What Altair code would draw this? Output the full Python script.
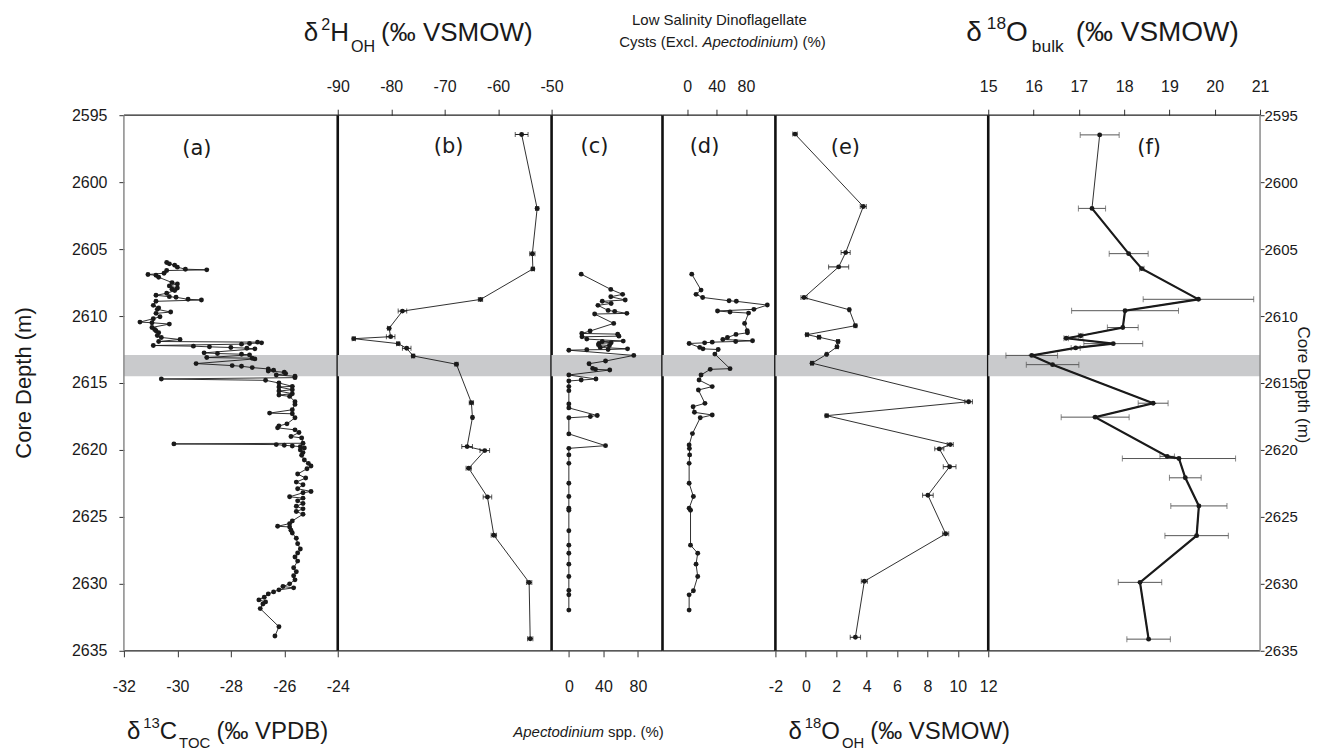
import altair as alt
import pandas as pd

# ---------------- data ----------------
# (a) d13C TOC (permil VPDB)
a_depth = [2606.0, 2606.1, 2606.2, 2606.35, 2606.5, 2606.55, 2606.6, 2606.8, 2606.9, 2606.95,
           2607.1, 2607.5, 2607.6, 2607.75, 2607.9, 2608.0, 2608.1, 2608.3, 2608.45, 2608.55,
           2608.6, 2608.75, 2608.8, 2608.9, 2609.2, 2609.4, 2609.5, 2609.7, 2609.8, 2610.05,
           2610.2, 2610.45, 2610.5, 2610.6, 2610.85, 2611.0, 2611.1, 2611.25, 2611.45, 2611.6,
           2611.75, 2611.9, 2611.95, 2612.0, 2612.05, 2612.1, 2612.2, 2612.25, 2612.3, 2612.35,
           2612.4, 2612.45, 2612.75, 2612.8, 2612.85, 2612.9, 2613.1, 2613.15, 2613.2, 2613.55,
           2613.7, 2613.75, 2613.85, 2613.95, 2614.05, 2614.1, 2614.2, 2614.3, 2614.4, 2614.5,
           2614.6, 2614.7, 2614.8, 2615.0, 2615.25, 2615.3, 2615.5, 2615.6, 2615.8, 2615.9,
           2616.0, 2616.4, 2616.6, 2617.0, 2617.25, 2617.3, 2617.6, 2618.05, 2618.2, 2618.35,
           2618.5, 2618.7, 2619.0, 2619.1, 2619.5, 2619.55, 2619.6, 2619.65, 2619.7, 2619.75,
           2619.85, 2620.0, 2620.2, 2620.4, 2620.75, 2621.0, 2621.2, 2621.4, 2621.8, 2622.1,
           2622.4, 2622.6, 2622.9, 2623.1, 2623.2, 2623.5, 2623.6, 2623.8, 2624.0, 2624.2,
           2624.4, 2624.6, 2624.8, 2625.3, 2625.5, 2625.7, 2625.75, 2626.0, 2626.2, 2626.6,
           2627.0, 2627.4, 2627.7, 2628.0, 2628.3, 2628.8, 2629.1, 2629.4, 2629.7, 2630.0,
           2630.2, 2630.3, 2630.45, 2630.6, 2630.75, 2631.0, 2631.2, 2631.35, 2631.5, 2631.85,
           2633.2, 2633.9]
a_d13c = [-30.4, -30.3, -30.1, -30.0, -29.7, -28.9, -30.4, -30.5, -31.1, -30.8,
          -30.7, -30.2, -30.0, -30.3, -30.0, -30.2, -30.1, -30.4, -30.8, -30.3,
          -30.05, -29.6, -29.1, -30.8, -30.9, -30.7, -30.75, -30.25, -30.8, -30.65,
          -30.9, -31.4, -30.95, -30.3, -30.95, -30.85, -30.8, -30.7, -30.75, -30.6,
          -29.9, -30.7, -27.0, -26.85, -27.3, -27.6, -30.9, -29.4, -28.8, -28.0,
          -27.4, -27.1, -29.0, -28.5, -27.6, -27.3, -28.9, -27.2, -27.1, -29.3,
          -27.95, -27.6, -27.2, -26.6, -26.4, -26.6, -26.0, -25.95, -26.3, -25.6,
          -25.6, -30.6, -26.7, -26.2, -25.7, -26.2, -25.7, -26.2, -25.7, -26.2,
          -25.8, -25.6, -25.6, -25.7, -26.55, -25.7, -25.6, -25.9, -26.2, -26.25,
          -25.6, -25.45, -25.75, -25.35, -25.3, -30.13, -26.3, -26.0, -25.7, -25.4,
          -25.25, -25.4, -25.3, -25.35, -25.25, -25.1, -25.0, -25.15, -25.5, -25.2,
          -25.55, -25.3, -25.5, -25.0, -25.3, -25.8, -25.3, -25.5, -25.3, -25.55,
          -25.3, -25.55, -25.3, -25.7, -25.8, -26.25, -25.8, -25.75, -25.7, -25.55,
          -25.5, -25.4, -25.5, -25.6, -25.5, -25.65, -25.55, -25.65, -25.6, -25.8,
          -26.05, -25.65, -26.2, -26.4, -26.6, -26.75, -26.95, -26.7, -26.8, -26.9,
          -26.2, -26.35]

# (b) d2H OH (permil VSMOW)
b_depth = [2596.44, 2601.97, 2605.35, 2606.48, 2608.76, 2609.63, 2610.92, 2611.54, 2611.69, 2612.06,
           2612.41, 2612.98, 2613.6, 2616.47, 2617.58, 2619.75, 2620.05, 2621.37, 2623.51, 2626.37,
           2629.9, 2634.1]
b_d2h = [-55.6, -52.7, -53.6, -53.5, -63.3, -77.9, -80.4, -80.1, -87.0, -78.7,
         -77.1, -75.9, -67.8, -65.0, -64.8, -65.8, -62.5, -65.5, -62.0, -60.8,
         -54.2, -54.0]
b_err = [1.2, 0.3, 0.5, 0.3, 0.4, 0.8, 0.3, 0.8, 0.3, 0.3,
         0.8, 0.3, 0.3, 0.4, 0.2, 1.0, 0.9, 0.5, 0.8, 0.5,
         0.5, 0.5]

# (c) Apectodinium spp. (%)
c_depth = [2606.87, 2608.01, 2608.38, 2608.56, 2608.8, 2608.9, 2609.06, 2609.2, 2609.58, 2609.65,
           2609.8, 2609.85, 2610.55, 2611.12, 2611.3, 2611.35, 2611.5, 2611.55, 2611.72, 2611.87,
           2611.9, 2612.0, 2612.04, 2612.14, 2612.2, 2612.34, 2612.45, 2612.5, 2612.52, 2612.55,
           2612.94, 2613.36, 2613.56, 2613.91, 2613.98, 2614.03, 2614.4, 2614.7, 2614.78, 2614.85,
           2615.27, 2615.57, 2616.56, 2616.86, 2617.43, 2617.5, 2617.6, 2618.8, 2619.68, 2619.88,
           2620.37, 2621.0, 2622.49, 2623.48, 2624.35, 2624.5, 2626.04, 2627.11, 2627.71, 2628.53,
           2629.45, 2630.5, 2630.82, 2631.96]
c_apect = [14.3, 48.6, 62.3, 48.6, 65.3, 38.7, 49.0, 33.7, 45.5, 53.1,
           67.2, 29.9, 52.0, 24.6, 15.0, 56.6, 58.0, 15.2, 20.8, 63.0,
           38.7, 49.0, 34.9, 34.3, 47.0, 36.4, 68.0, 45.5, 20.8, 0.0,
           75.2, 42.5, 23.4, 27.6, 30.9, 47.4, 0.0, 31.4, 14.3, 0.0,
           0.0, 0.0, 0.0, 0.0, 32.9, 24.9, 0.0, 0.0, 42.5, 0.0,
           0.0, 0.0, 0.0, 0.0, 0.0, 0.0, 0.0, 0.0, 0.0, 0.0,
           0.0, 0.0, 0.0, 0.0]

# (d) Low salinity dinoflagellate cysts excl. Apectodinium (%)
d_depth = [2606.87, 2608.06, 2608.38, 2608.61, 2608.86, 2608.9, 2609.18, 2609.5, 2609.62, 2609.7,
           2609.78, 2610.55, 2611.1, 2611.25, 2611.37, 2611.6, 2611.75, 2611.85, 2611.9, 2611.95,
           2612.0, 2612.05, 2612.34, 2612.45, 2612.5, 2612.84, 2613.93, 2613.98, 2614.4, 2614.78,
           2615.27, 2615.52, 2616.52, 2616.77, 2617.19, 2617.39, 2617.6, 2618.78, 2619.63, 2619.9,
           2620.37, 2621.0, 2622.49, 2623.48, 2624.35, 2624.5, 2627.11, 2627.71, 2628.53, 2629.45,
           2630.52, 2630.82, 2631.96]
d_lowsal = [6.3, 18.9, 12.1, 21.1, 57.0, 66.9, 109.0, 90.7, 41.3, 58.3,
            83.5, 78.1, 81.7, 82.0, 66.4, 54.8, 48.5, 88.9, 66.0, 34.1,
            23.8, 2.7, 17.1, 21.5, 42.2, 37.7, 58.3, 31.4, 18.9, 16.2,
            34.1, 15.3, 24.2, 8.1, 9.9, 34.1, 17.8, 7.2, 2.7, 3.1,
            3.4, 2.7, 2.7, 8.5, 2.7, 4.6, 4.6, 14.4, 12.1, 14.4,
            8.5, 2.7, 2.7]

# (e) d18O OH (permil VSMOW)
e_depth = [2596.41, 2601.82, 2605.26, 2606.33, 2608.62, 2609.53, 2610.72, 2611.39, 2611.58, 2611.9,
           2612.3, 2612.86, 2613.52, 2616.4, 2617.44, 2619.6, 2619.92, 2621.25, 2623.38, 2626.26,
           2629.81, 2633.99]
e_d18o = [-0.71, 3.78, 2.62, 2.16, -0.12, 2.86, 3.26, 0.08, 0.87, 2.12,
          2.05, 1.37, 0.41, 10.71, 1.37, 9.5, 8.78, 9.46, 8.03, 9.2,
          3.85, 3.26]
e_err = [0.15, 0.2, 0.3, 0.66, 0.2, 0.05, 0.1, 0.1, 0.1, 0.1,
         0.1, 0.05, 0.1, 0.25, 0.1, 0.2, 0.3, 0.42, 0.35, 0.2,
         0.2, 0.34]

# (f) d18O bulk (permil VSMOW)
f_depth = [2596.47, 2601.96, 2605.34, 2606.46, 2608.75, 2609.6, 2610.86, 2611.47, 2611.66, 2612.06,
           2612.38, 2612.94, 2613.63, 2616.51, 2617.55, 2620.48, 2620.64, 2622.08, 2624.18, 2626.4,
           2629.89, 2634.13]
f_d18o = [17.46, 17.29, 18.1, 18.39, 19.64, 18.02, 17.97, 17.04, 16.72, 17.76,
          16.93, 15.96, 16.42, 18.64, 17.36, 18.95, 19.21, 19.35, 19.65, 19.6,
          18.35, 18.54]
f_err = [0.43, 0.3, 0.43, 0.05, 1.22, 1.18, 0.34, 0.05, 0.05, 0.65,
         0.1, 0.57, 0.58, 0.33, 0.75, 0.16, 1.25, 0.35, 0.62, 0.7,
         0.48, 0.48]

band_top = [2612.9]
band_bottom = [2614.5]
depth_ticks = [2595, 2600, 2605, 2610, 2615, 2620, 2625, 2630, 2635]

# ---------------- style ----------------
FONT = "Liberation Sans"
INK = "#1a1a1a"
BAND = "#c9cacc"
H = 536
ONE = pd.DataFrame({"k": [0]})

AW = {' ': 278, '(': 333, ')': 333, '‰': 1000, 'δ': 556, '%': 889, '.': 278,
      'H': 722, 'O': 778, 'C': 722, 'T': 611, 'V': 667, 'S': 667, 'M': 833, 'W': 944,
      'P': 667, 'D': 722, 'B': 667, 'A': 667, 'E': 667, 'L': 556,
      'b': 556, 'u': 556, 'l': 222, 'k': 500, 'p': 556, 'e': 556, 'c': 500, 't': 278,
      'o': 556, 'd': 556, 'i': 222, 'n': 556, 'm': 833, 's': 500, 'w': 722, 'a': 556,
      'y': 500, 'f': 278, 'g': 556, 'x': 500}


def tw(s, size):
    return sum(AW.get(ch, 556) for ch in s) * size / 1000.0


def rich(pieces, x, y, size, center=False):
    items = []
    for t, k in pieces:
        if k == "gap":
            items.append((None, float(t), 0, size, k))
            continue
        fs = size * 0.62 if k in ("sup", "sub") else size
        dy = -size * 0.45 if k == "sup" else (size * 0.40 if k == "sub" else 0)
        items.append((t, tw(t, fs), dy, fs, k))
    total = sum(it[1] for it in items)
    cx = x - total / 2 if center else x
    out = []
    for t, w, dy, fs, k in items:
        if t is not None:
            out.append(alt.Chart(ONE).mark_text(
                text=t, align="left", baseline="alphabetic", font=FONT, fontSize=fs,
                fontStyle="italic" if k == "it" else "normal", color=INK
            ).encode(x=alt.value(cx), y=alt.value(y + dy)))
        cx += w
    return out


def xaxis(orient, values):
    return alt.Axis(orient=orient, values=values, tickSize=6, tickColor="#333", tickWidth=1,
                    labelPadding=22 if orient == "bottom" else 15, labelFontSize=16,
                    labelFont=FONT, labelColor=INK,
                    labelFlush=False, labelOverlap=False, labelExpr="'' + datum.value",
                    domain=False, grid=False, title=None)


def yaxis(orient):
    left = orient == "left"
    return alt.Axis(orient=orient, values=depth_ticks, tickSize=5 if left else 4, tickColor="#333",
                    tickWidth=1, labelPadding=12 if left else 0, labelFontSize=16 if left else 15,
                    labelFont=FONT, labelColor=INK, labelExpr="'' + datum.value",
                    labelOverlap=False, domain=False, grid=False, title=None)


def make_panel(vals, depths, width, xdom, xax, yax, label, lxy, errs=None, err_color=INK,
               err_width=1.0, cap=5, thick=False, left_border=False, right_border=False,
               divider=True, extra=()):
    n = len(vals)
    df = pd.DataFrame({"depth": depths, "val": vals, "idx": list(range(n))})
    if errs is not None:
        df["lo"] = [v - e for v, e in zip(vals, errs)]
        df["hi"] = [v + e for v, e in zip(vals, errs)]
    xs = alt.Scale(domain=xdom, nice=False, zero=False)
    ys = alt.Scale(domain=[depth_ticks[0], depth_ticks[-1]], reverse=True, nice=False, zero=False)

    def X(f):
        return alt.X(f, type="quantitative", scale=xs, axis=xax)

    def Y(f):
        return alt.Y(f, type="quantitative", scale=ys, axis=yax)

    base = alt.Chart(df)
    layers = []
    band_df = pd.DataFrame({"top": band_top, "bot": band_bottom})
    layers.append(alt.Chart(band_df).mark_rect(color=BAND).encode(
        y=Y("top"), y2=alt.Y2("bot"), x=alt.value(0), x2=alt.value(width)))
    if errs is not None:
        layers.append(base.mark_rule(color=err_color, strokeWidth=err_width).encode(
            x=X("lo"), x2=alt.X2("hi"), y=Y("depth")))
        layers.append(base.mark_tick(color=err_color, orient="vertical", size=cap,
                                     thickness=err_width).encode(x=X("lo"), y=Y("depth")))
        layers.append(base.mark_tick(color=err_color, orient="vertical", size=cap,
                                     thickness=err_width).encode(x=X("hi"), y=Y("depth")))
    layers.append(base.mark_line(color=INK, strokeWidth=0.9).encode(
        x=X("val"), y=Y("depth"), order=alt.Order("idx:Q")))
    if thick:
        layers.append(base.mark_line(color=INK, strokeWidth=2.2).encode(
            x=X("val"), y=Y("depth"), order=alt.Order("idx:Q")
        ).transform_filter(alt.datum.idx >= 1))
    layers.append(base.mark_circle(color=INK, size=24, opacity=1).encode(
        x=X("val"), y=Y("depth")))
    # frame lines
    layers.append(alt.Chart(ONE).mark_rule(color="#222", strokeWidth=1.3).encode(
        x=alt.value(0), x2=alt.value(width), y=alt.value(0)))
    layers.append(alt.Chart(ONE).mark_rule(color="#222", strokeWidth=1.3).encode(
        x=alt.value(0), x2=alt.value(width), y=alt.value(H)))
    if left_border:
        layers.append(alt.Chart(ONE).mark_rule(color="#8a8a8a", strokeWidth=1.5).encode(
            x=alt.value(0), y=alt.value(0), y2=alt.value(H)))
    if right_border:
        layers.append(alt.Chart(ONE).mark_rule(color="#8a8a8a", strokeWidth=1.5).encode(
            x=alt.value(width), y=alt.value(0), y2=alt.value(H)))
    if divider:
        layers.append(alt.Chart(ONE).mark_rule(color="#111", strokeWidth=2.6).encode(
            x=alt.value(width), y=alt.value(0), y2=alt.value(H)))
    layers.append(alt.Chart(ONE).mark_text(
        text=label, font="DejaVu Sans", fontSize=21, color=INK, align="center", baseline="middle"
    ).encode(x=alt.value(lxy[0]), y=alt.value(lxy[1])))
    layers.extend(extra)
    return alt.layer(*layers).properties(width=width, height=H)


WA, WB, WC, WD, WE, WF = 214, 214, 111, 113, 213, 272

extra_a = rich([("δ", "n"), (3, "gap"), ("13", "sup"), ("C", "n"), (2, "gap"), ("TOC", "sub"),
                (6, "gap"), ("(‰ VPDB)", "n")], 3, 624, 24)
extra_a.append(alt.Chart(ONE).mark_text(
    text="Core Depth (m)", angle=270, font=FONT, fontSize=22, color=INK,
    align="center", baseline="middle").encode(x=alt.value(-100), y=alt.value(H / 2)))

extra_b = rich([("δ", "n"), (3, "gap"), ("2", "sup"), ("H", "n"), (2, "gap"), ("OH", "sub"),
                (6, "gap"), ("(‰ VSMOW)", "n")], -34, -74, 26)

extra_c = rich([("Apectodinium", "it"), (4, "gap"), ("spp. (%)", "n")], 37, 622, 15, center=True)

extra_d = rich([("Low Salinity Dinoflagellate", "n")], 57, -90, 15, center=True) + \
    rich([("Cysts (Excl. ", "n"), ("Apectodinium", "it"), (") (%)", "n")], 60, -68, 15, center=True)

extra_e = rich([("δ", "n"), (3, "gap"), ("18", "sup"), ("O", "n"), (2, "gap"), ("OH", "sub"),
                (6, "gap"), ("(‰ VSMOW)", "n")], 13, 624, 24)

extra_f = rich([("δ", "n"), (5, "gap"), ("18", "sup"), ("O", "n"), (4, "gap"), ("bulk", "sub"),
                (12, "gap"), ("(‰ VSMOW)", "n")], -22, -74, 28)
extra_f.append(alt.Chart(ONE).mark_text(
    text="Core Depth (m)", angle=90, font=FONT, fontSize=17, color=INK,
    align="center", baseline="alphabetic").encode(x=alt.value(WF + 38), y=alt.value(H / 2 + 2)))

pa = make_panel(a_d13c, a_depth, WA, [-32, -24], xaxis("bottom", [-32, -30, -28, -26, -24]),
                yaxis("left"), "(a)", (73, 34), left_border=True, extra=extra_a)
pb = make_panel(b_d2h, b_depth, WB, [-90, -50], xaxis("top", [-90, -80, -70, -60, -50]),
                None, "(b)", (111, 32), errs=b_err, cap=5, extra=extra_b)
pc = make_panel(c_apect, c_depth, WC, [-20, 108.5], xaxis("bottom", [0, 40, 80]),
                None, "(c)", (43, 32), extra=extra_c)
pd_ = make_panel(d_lowsal, d_depth, WD, [-33.5, 120], xaxis("top", [0, 40, 80]),
                 None, "(d)", (42, 32), extra=extra_d)
pe = make_panel(e_d18o, e_depth, WE, [-2, 12], xaxis("bottom", [-2, 0, 2, 4, 6, 8, 10, 12]),
                None, "(e)", (70, 33), errs=e_err, cap=5, extra=extra_e)
pf = make_panel(f_d18o, f_depth, WF, [15, 21], xaxis("top", [15, 16, 17, 18, 19, 20, 21]),
                yaxis("right"), "(f)", (161, 33), errs=f_err, err_color="#555", cap=6,
                thick=True, right_border=True, divider=False, extra=extra_f)

chart = alt.hconcat(pa, pb, pc, pd_, pe, pf, spacing=0, bounds="flush").resolve_scale(
    x="independent", y="independent"
).properties(
    padding={"left": 5, "top": 5, "right": 0, "bottom": 0}
).configure_view(stroke=None)

chart.save("out.html", embed_options={"renderer": "svg", "actions": False})
